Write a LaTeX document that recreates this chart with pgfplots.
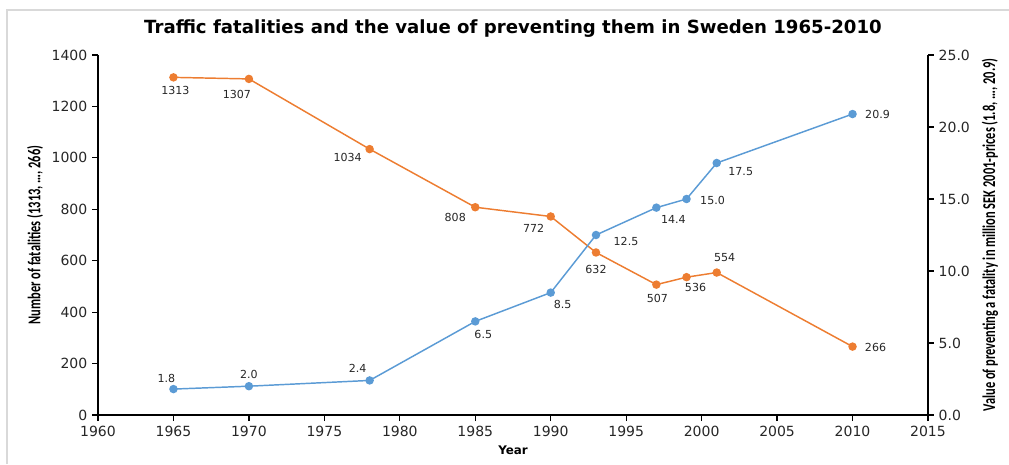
\documentclass[border=0pt]{standalone}
\usepackage{pgfplots}
\pgfplotsset{compat=1.18}
\usepackage{pgfplotstable}
\usepackage{fontspec}
\setmainfont{DejaVu Sans}
\newfontfamily\carlito{Carlito}
\definecolor{orn}{HTML}{ED7D31}
\definecolor{blu}{HTML}{5B9BD5}
\definecolor{framec}{HTML}{D9D9D9}

\pgfplotstableread{
year val dx dy
1965 1313 1.5 -9.75
1970 1307 -9 -12
1978 1034 -16.5 -6
1985 808 -15 -7.5
1990 772 -12.75 -9
1993 632 0 -12.75
1997 507 0.75 -10.5
1999 536 6.75 -7.5
2001 554 6 11.25
2010 266 17.25 -0.75
}\fatal

\pgfplotstableread{
year val dx dy
1965 1.8 -5.25 8.25
1970 2.0 0 9
1978 2.4 -9 9
1985 6.5 6 -9.75
1990 8.5 9 -9
1993 12.5 22.5 -4.5
1997 14.4 12.75 -9
1999 15.0 19.5 -0.75
2001 17.5 18 -6.75
2010 20.9 18.75 0
}\vpf

\newcommand{\axlab}[1]{\scalebox{0.69}[1]{\fontsize{13.5}{15}\selectfont\carlito\bfseries #1}}

\pgfplotsset{
  base/.style={
    scale only axis, width=622.5pt, height=270pt,
    at={(73.5pt,36.75pt)}, anchor=south west,
    xmin=1960, xmax=2015,
    clip=false,
    axis line style={line width=0.9pt, black},
    tick style={line width=0.9pt, black},
    tick align=outside, major tick length=4.5pt,
    ticklabel style={font=\fontsize{10.5}{12}\selectfont, text=black!85},
    /pgf/number format/assume math mode=true,
    /pgf/number format/1000 sep={},
  },
  lbl/.style={
    visualization depends on={\thisrow{dx} \as \dx},
    visualization depends on={\thisrow{dy} \as \dy},
    nodes near coords,
    every node near coord/.append style={anchor=center, xshift=\dx pt, yshift=\dy pt,
      font=\fontsize{8.3}{10}\selectfont, text=black!85, inner sep=0pt},
  }
}

\begin{document}
\begin{tikzpicture}
\useasboundingbox (0,0) rectangle (756.75pt,348pt);
\draw[framec, line width=1.5pt] (5.25pt,0) -- (5.25pt,340.5pt) -- (756.75pt,340.5pt);
\node[font=\fontsize{13.6}{16}\selectfont\bfseries] at (384.75pt,326.25pt)
  {Traffic fatalities and the value of preventing them in Sweden 1965-2010};

\begin{axis}[base,
  axis x line*=bottom, axis y line*=left,
  ymin=0, ymax=1400, ytick={0,200,...,1400},
  xtick={1960,1965,...,2015},
  xlabel={\fontsize{8.9}{10}\selectfont\bfseries Year},
  xlabel style={at={(axis description cs:0.5,-0.0972)}, anchor=center},
  ylabel={\axlab{Number of fatalities (1313, …, 266)}},
  ylabel style={at={(axis description cs:-0.0759,0.5)}, anchor=center},
]
\addplot[orn, line width=1.1pt, mark=*, mark size=2.6pt, lbl,
  point meta=y,
  nodes near coords={\pgfmathprintnumber[fixed,precision=0]{\pgfplotspointmeta}}]
  table[x=year, y=val] {\fatal};
\end{axis}

\begin{axis}[base,
  axis x line=none, axis y line*=right,
  ymin=0, ymax=25, ytick={0,5,...,25},
  yticklabel={\pgfmathprintnumber[fixed,fixed zerofill,precision=1]{\tick}},
  ylabel={\axlab{Value of preventing a fatality in million SEK 2001-prices (1.8, …, 20.9)}},
  ylabel style={at={(axis description cs:1.0747,0.5)}, anchor=center, rotate=0},
]
\addplot[blu, line width=1.1pt, mark=*, mark size=2.6pt, lbl,
  point meta=y,
  nodes near coords={\pgfmathprintnumber[fixed,fixed zerofill,precision=1]{\pgfplotspointmeta}}]
  table[x=year, y=val] {\vpf};
\end{axis}
\end{tikzpicture}
\end{document}
